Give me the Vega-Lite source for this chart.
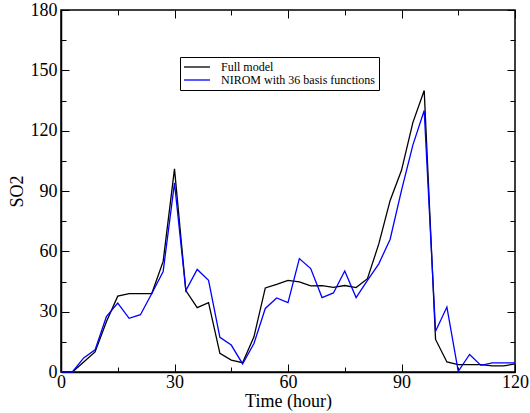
{
  "$schema": "https://vega.github.io/schema/vega-lite/v6.json",
  "width": 454,
  "height": 362,
  "autosize": "none",
  "padding": {"left": 61, "top": 10, "right": 15, "bottom": 41},
  "background": "white",
  "config": {
    "font": "Liberation Serif",
    "view": {"stroke": "black", "strokeWidth": 1.5},
    "axis": {"grid": false, "domainColor": "black", "domainWidth": 1.5, "tickColor": "black", "tickWidth": 1, "labelColor": "black", "titleColor": "black", "labelFont": "Liberation Serif", "titleFont": "Liberation Serif", "labelFontSize": 18, "titleFontSize": 18, "titleFontWeight": "normal"}
  },
  "data": {"values": [
    {"t":0,"v":0,"s":"Full model"},{"t":3,"v":0,"s":"Full model"},{"t":6,"v":5,"s":"Full model"},{"t":9,"v":10,"s":"Full model"},{"t":12,"v":25,"s":"Full model"},{"t":15,"v":37.7,"s":"Full model"},{"t":18,"v":39,"s":"Full model"},{"t":21,"v":39,"s":"Full model"},{"t":24,"v":39,"s":"Full model"},{"t":27,"v":55,"s":"Full model"},{"t":30,"v":101,"s":"Full model"},{"t":33,"v":40.5,"s":"Full model"},{"t":36,"v":32,"s":"Full model"},{"t":39,"v":34.5,"s":"Full model"},{"t":42,"v":9.3,"s":"Full model"},{"t":45,"v":5.9,"s":"Full model"},{"t":48,"v":4.6,"s":"Full model"},{"t":51,"v":17.5,"s":"Full model"},{"t":54,"v":41.8,"s":"Full model"},{"t":57,"v":43.6,"s":"Full model"},{"t":60,"v":45.6,"s":"Full model"},{"t":63,"v":44.8,"s":"Full model"},{"t":66,"v":42.8,"s":"Full model"},{"t":69,"v":42.9,"s":"Full model"},{"t":72,"v":42.1,"s":"Full model"},{"t":75,"v":43,"s":"Full model"},{"t":78,"v":42,"s":"Full model"},{"t":81,"v":46.4,"s":"Full model"},{"t":84,"v":63.7,"s":"Full model"},{"t":87,"v":85.3,"s":"Full model"},{"t":90,"v":100.3,"s":"Full model"},{"t":93,"v":124,"s":"Full model"},{"t":96,"v":140,"s":"Full model"},{"t":99,"v":16.2,"s":"Full model"},{"t":102,"v":5,"s":"Full model"},{"t":105,"v":3.7,"s":"Full model"},{"t":108,"v":3.7,"s":"Full model"},{"t":111,"v":3.7,"s":"Full model"},{"t":114,"v":3,"s":"Full model"},{"t":117,"v":3,"s":"Full model"},{"t":120,"v":4,"s":"Full model"},
    {"t":0,"v":0,"s":"NIROM with 36 basis functions"},{"t":3,"v":0,"s":"NIROM with 36 basis functions"},{"t":6,"v":7,"s":"NIROM with 36 basis functions"},{"t":9,"v":11,"s":"NIROM with 36 basis functions"},{"t":12,"v":27.5,"s":"NIROM with 36 basis functions"},{"t":15,"v":34.3,"s":"NIROM with 36 basis functions"},{"t":18,"v":26.7,"s":"NIROM with 36 basis functions"},{"t":21,"v":28.5,"s":"NIROM with 36 basis functions"},{"t":24,"v":39,"s":"NIROM with 36 basis functions"},{"t":27,"v":50,"s":"NIROM with 36 basis functions"},{"t":30,"v":94,"s":"NIROM with 36 basis functions"},{"t":33,"v":40.5,"s":"NIROM with 36 basis functions"},{"t":36,"v":51,"s":"NIROM with 36 basis functions"},{"t":39,"v":45.6,"s":"NIROM with 36 basis functions"},{"t":42,"v":17.2,"s":"NIROM with 36 basis functions"},{"t":45,"v":13.4,"s":"NIROM with 36 basis functions"},{"t":48,"v":4,"s":"NIROM with 36 basis functions"},{"t":51,"v":14.2,"s":"NIROM with 36 basis functions"},{"t":54,"v":31.6,"s":"NIROM with 36 basis functions"},{"t":57,"v":36.8,"s":"NIROM with 36 basis functions"},{"t":60,"v":34.5,"s":"NIROM with 36 basis functions"},{"t":63,"v":56.4,"s":"NIROM with 36 basis functions"},{"t":66,"v":51.4,"s":"NIROM with 36 basis functions"},{"t":69,"v":37,"s":"NIROM with 36 basis functions"},{"t":72,"v":39.3,"s":"NIROM with 36 basis functions"},{"t":75,"v":50.2,"s":"NIROM with 36 basis functions"},{"t":78,"v":37,"s":"NIROM with 36 basis functions"},{"t":81,"v":45.6,"s":"NIROM with 36 basis functions"},{"t":84,"v":53.8,"s":"NIROM with 36 basis functions"},{"t":87,"v":66,"s":"NIROM with 36 basis functions"},{"t":90,"v":90.3,"s":"NIROM with 36 basis functions"},{"t":93,"v":112.8,"s":"NIROM with 36 basis functions"},{"t":96,"v":130,"s":"NIROM with 36 basis functions"},{"t":99,"v":20.3,"s":"NIROM with 36 basis functions"},{"t":102,"v":32.3,"s":"NIROM with 36 basis functions"},{"t":105,"v":0.3,"s":"NIROM with 36 basis functions"},{"t":108,"v":8.7,"s":"NIROM with 36 basis functions"},{"t":111,"v":3.3,"s":"NIROM with 36 basis functions"},{"t":114,"v":4.5,"s":"NIROM with 36 basis functions"},{"t":117,"v":4.5,"s":"NIROM with 36 basis functions"},{"t":120,"v":4.5,"s":"NIROM with 36 basis functions"}
  ]},
  "resolve": {"axis": {"x": "independent", "y": "independent"}},
  "layer": [
    {
      "mark": {"type": "line", "strokeWidth": 1.3},
      "encoding": {
        "x": {"field": "t", "type": "quantitative", "scale": {"domain": [0, 120], "nice": false}, "axis": {"title": "Time (hour)", "values": [0,15,30,45,60,75,90,105,120], "labelExpr": "datum.value % 30 === 0 ? datum.label : ''", "tickSize": {"condition": {"test": "datum.value % 30 === 0", "value": -8}, "value": -5}, "labelPadding": 9, "titlePadding": 1, "labelFlush": false}},
        "y": {"field": "v", "type": "quantitative", "scale": {"domain": [0, 180], "nice": false}, "axis": {"title": "SO2", "values": [0,15,30,45,60,75,90,105,120,135,150,165,180], "labelExpr": "datum.value % 30 === 0 ? datum.label : ''", "tickSize": {"condition": {"test": "datum.value % 30 === 0", "value": -8}, "value": -5}, "labelPadding": 12, "titlePadding": 4, "labelFlush": false}},
        "color": {"field": "s", "type": "nominal", "scale": {"domain": ["Full model", "NIROM with 36 basis functions"], "range": ["#000000", "#0000ff"]}, "legend": {"title": null, "orient": "none", "legendX": 119, "legendY": 47, "symbolType": "M-1.2,0L4,0", "symbolSize": 100, "symbolStrokeWidth": 1.3, "labelFontSize": 12, "labelFont": "Liberation Serif", "labelColor": "black", "labelOffset": 25, "rowPadding": 1, "padding": 4, "strokeColor": "black", "fillColor": "white"}},
        "detail": {"field": "s"}
      }
    },
    {
      "mark": {"type": "line", "opacity": 0},
      "encoding": {
        "x": {"field": "t", "type": "quantitative", "axis": {"orient": "top", "title": null, "labels": false, "domain": false, "values": [0,15,30,45,60,75,90,105,120], "tickSize": {"condition": {"test": "datum.value % 30 === 0", "value": -8}, "value": -5}}},
        "y": {"field": "v", "type": "quantitative", "axis": {"orient": "right", "title": null, "labels": false, "domain": false, "values": [0,15,30,45,60,75,90,105,120,135,150,165,180], "tickSize": {"condition": {"test": "datum.value % 30 === 0", "value": -8}, "value": -5}}},
        "detail": {"field": "s"}
      }
    }
  ]
}
